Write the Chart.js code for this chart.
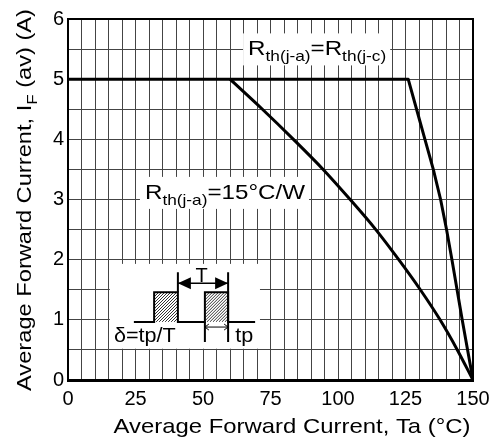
<!DOCTYPE html>
<html>
<head>
<meta charset="utf-8">
<script src="https://cdn.jsdelivr.net/npm/chart.js@4.4.1/dist/chart.umd.min.js"></script>
<style>
  html, body { margin: 0; padding: 0; background: #fff; }
  #wrap { width: 500px; height: 443px; }
</style>
</head>
<body>
<div id="wrap"><canvas id="derating"></canvas></div>
<script>
// Rth(j-a) = Rth(j-c) curve
const caseTemp = [0, 126, 129.1, 132.2, 135.3, 138, 140.2, 142.2, 144.1, 146, 148, 150];
const caseCurrent = [5, 5, 4.5, 4, 3.5, 3, 2.5, 2, 1.5, 1, 0.5, 0];
// Rth(j-a) = 15°C/W curve
const ambTemp = [60, 72, 83.5, 94.5, 104.5, 114, 122.5, 130.5, 137.8, 144.2, 150];
const ambCurrent = [5, 4.5, 4, 3.5, 3, 2.5, 2, 1.5, 1, 0.5, 0];
// labelled ticks
const xTicks = [0, 25, 50, 75, 100, 125, 150];
const yTicks = [0, 1, 2, 3, 4, 5, 6];

const FONT = '"Liberation Sans", Arial, sans-serif';
const STRETCH = 1.15; // the original lettering is a bit wider than Arial

function toPoints(xs, ys) {
    return xs.map((x, i) => ({ x: x, y: ys[i] }));
}

function richWidth(ctx, parts, size) {
    let w = 0;
    parts.forEach(([t, sub]) => {
        ctx.font = (sub ? Math.round(size * 0.7) : size) + 'px ' + FONT;
        w += ctx.measureText(t).width;
    });
    return w;
}

// draws text with subscript parts (stretched horizontally), returns drawn width
function drawRich(ctx, parts, x, y, size, sx) {
    const big = size + 'px ' + FONT;
    const small = Math.round(size * 0.7) + 'px ' + FONT;
    ctx.save();
    ctx.translate(x, y);
    ctx.scale(sx, 1);
    ctx.textAlign = 'left';
    ctx.textBaseline = 'alphabetic';
    let cx = 0;
    parts.forEach(([t, sub]) => {
        ctx.font = sub ? small : big;
        ctx.fillText(t, cx, sub ? size * 0.27 : 0);
        cx += ctx.measureText(t).width;
    });
    ctx.restore();
    return cx * sx;
}

function arrowHead(ctx, x, y, dir, len, half, filled) {
    ctx.beginPath();
    ctx.moveTo(x + dir * len, y - half);
    ctx.lineTo(x, y);
    ctx.lineTo(x + dir * len, y + half);
    if (filled) { ctx.closePath(); ctx.fill(); } else { ctx.stroke(); }
}

const annotations = {
    id: 'annotations',
    beforeDatasetsDraw(chart) {
        const { ctx, scales: { x, y } } = chart;
        const X = v => x.getPixelForValue(v);
        const Y = v => y.getPixelForValue(v);
        ctx.save();

        // curve labels with white backing
        const labels = [
            { parts: [['R', false], ['th(j-a)', true], ['=R', false], ['th(j-c)', true]], at: [66.7, 5.395] },
            { parts: [['R', false], ['th(j-a)', true], ['=15°C/W', false]], at: [28.5, 3.01] }
        ];
        labels.forEach(l => {
            const px = X(l.at[0]), py = Y(l.at[1]);
            const w = richWidth(ctx, l.parts, 21) * STRETCH;
            ctx.fillStyle = '#fff';
            ctx.fillRect(px - 5, py - 22, w + 9, 32);
            ctx.fillStyle = '#000';
            drawRich(ctx, l.parts, px, py, 21, STRETCH);
        });

        // duty cycle inset
        const bx0 = X(15.5), bx1 = X(71.1), by0 = Y(1.93), by1 = Y(0.52);
        ctx.fillStyle = '#fff';
        ctx.fillRect(bx0, by0, bx1 - bx0, by1 - by0);

        const lo = Y(0.966), hi = Y(1.46);
        const p1a = X(31.9), p1b = X(40.7), p2a = X(50.7), p2b = X(59.3);

        // hatching
        ctx.strokeStyle = '#000';
        ctx.lineWidth = 0.8;
        [[p1a, p1b], [p2a, p2b]].forEach(([a, b]) => {
            ctx.save();
            ctx.beginPath();
            ctx.rect(a, hi, b - a, lo - hi);
            ctx.clip();
            ctx.beginPath();
            for (let s = a - 40; s < b + 40; s += 3) {
                ctx.moveTo(s, lo);
                ctx.lineTo(s + (lo - hi), hi);
            }
            ctx.stroke();
            ctx.restore();
        });

        // pulse train
        ctx.lineWidth = 2;
        ctx.beginPath();
        ctx.moveTo(X(24.4), lo);
        ctx.lineTo(p1a, lo); ctx.lineTo(p1a, hi); ctx.lineTo(p1b, hi); ctx.lineTo(p1b, lo);
        ctx.lineTo(p2a, lo); ctx.lineTo(p2a, hi); ctx.lineTo(p2b, hi); ctx.lineTo(p2b, lo);
        ctx.lineTo(X(69.3), lo);
        ctx.stroke();

        // marker lines
        const top = Y(1.79), bot = Y(0.63);
        ctx.beginPath();
        ctx.moveTo(p1b, hi); ctx.lineTo(p1b, top);
        ctx.moveTo(p2b, top); ctx.lineTo(p2b, bot);
        ctx.moveTo(p2a, lo); ctx.lineTo(p2a, bot);
        ctx.stroke();

        // T arrow
        const ty = Y(1.61);
        ctx.lineWidth = 1.5;
        ctx.beginPath();
        ctx.moveTo(p1b, ty); ctx.lineTo(p2b, ty);
        ctx.stroke();
        ctx.fillStyle = '#000';
        arrowHead(ctx, p1b, ty, 1, 13, 6, true);
        arrowHead(ctx, p2b, ty, -1, 13, 6, true);

        // tp arrow
        const tpy = Y(0.88);
        ctx.lineWidth = 1;
        ctx.beginPath();
        ctx.moveTo(p2a, tpy); ctx.lineTo(p2b, tpy);
        ctx.stroke();
        arrowHead(ctx, p2a, tpy, 1, 4, 3, false);
        arrowHead(ctx, p2b, tpy, -1, 4, 3, false);

        // inset text
        ctx.textBaseline = 'alphabetic';
        ctx.font = '20px ' + FONT;
        ctx.textAlign = 'center';
        ctx.fillText('T', X(49.5), Y(1.63));
        drawRich(ctx, [['tp', false]], X(61.9), Y(0.635), 20, 1.08);
        drawRich(ctx, [['δ=tp/T', false]], X(17), Y(0.635), 20, 1.08);

        ctx.restore();
    },
    afterDraw(chart) {
        const { ctx, chartArea: a } = chart;
        ctx.save();
        // top and right frame
        ctx.strokeStyle = '#000';
        ctx.lineWidth = 2;
        ctx.beginPath();
        ctx.moveTo(a.left, a.top);
        ctx.lineTo(a.right, a.top);
        ctx.lineTo(a.right, a.bottom);
        ctx.stroke();
        ctx.fillStyle = '#000';

        // x axis title
        const xParts = [['Average Forward Current, Ta (°C)', false]];
        const xs = 357 / richWidth(ctx, xParts, 21);
        drawRich(ctx, xParts, 292 - 357 / 2, 433, 21, xs);

        // y axis title with subscript
        const yParts = [['Average Forward Current, I', false], ['F', true], [' (av) (A)', false]];
        const ys = 382 / richWidth(ctx, yParts, 21);
        ctx.translate(31, 200);
        ctx.rotate(-Math.PI / 2);
        drawRich(ctx, yParts, -382 / 2, 0, 21, ys);
        ctx.restore();
    }
};

const ctx = document.getElementById('derating').getContext('2d');

const chart = new Chart(ctx, {
    type: 'line',
    data: {
        datasets: [{
            label: 'Rth(j-a)=Rth(j-c)',
            data: toPoints(caseTemp, caseCurrent),
            borderColor: '#000',
            borderWidth: 3,
            pointRadius: 0,
            tension: 0,
            borderJoinStyle: 'round',
            fill: false
        }, {
            label: 'Rth(j-a)=15°C/W',
            data: toPoints(ambTemp, ambCurrent),
            borderColor: '#000',
            borderWidth: 3,
            pointRadius: 0,
            cubicInterpolationMode: 'monotone',
            fill: false
        }]
    },
    options: {
        responsive: true,
        maintainAspectRatio: false,
        animation: false,
        layout: { padding: { top: 19, right: 27, left: 0, bottom: 0 } },
        plugins: {
            legend: { display: false },
            tooltip: { enabled: false }
        },
        scales: {
            x: {
                type: 'linear',
                min: 0,
                max: 150,
                afterFit: s => { s.height = 63; },
                ticks: {
                    stepSize: 5,
                    autoSkip: false,
                    maxRotation: 0,
                    padding: 7,
                    color: '#000',
                    font: { family: FONT, size: 20 },
                    callback: v => xTicks.includes(v) ? String(v) : ''
                },
                grid: { color: '#444', lineWidth: 1, drawTicks: false },
                border: { color: '#000', width: 3 }
            },
            y: {
                min: 0,
                max: 6,
                afterFit: s => { s.width = 68; },
                ticks: {
                    stepSize: 0.5,
                    autoSkip: false,
                    padding: 4,
                    color: '#000',
                    font: { family: FONT, size: 20 },
                    callback: v => yTicks.includes(v) ? String(v) : ''
                },
                grid: { color: '#444', lineWidth: 1, drawTicks: false },
                border: { color: '#000', width: 2 }
            }
        }
    },
    plugins: [annotations]
});
</script>
</body>
</html>
